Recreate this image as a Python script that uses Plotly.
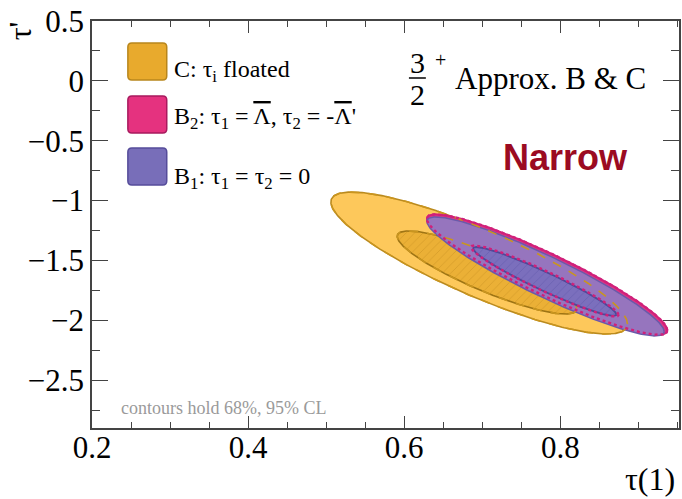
import numpy as np
import plotly.graph_objects as go

# ---------------- data ----------------
# Confidence contours: centre, half-extent along each axis, correlation
contour_names = ["C 95%", "C 68%", "B2 95%", "B1 95%", "B1 68%", "B2 68%"]
centre_x = [0.696, 0.706, 0.783, 0.781, 0.780, 0.780]
centre_y = [-1.522, -1.601, -1.618, -1.634, -1.676, -1.672]
half_x = [0.190, 0.115, 0.154, 0.152, 0.0917, 0.0945]
half_y = [0.593, 0.347, 0.503, 0.497, 0.288, 0.297]
rho = [-0.86, -0.87, -0.925, -0.926, -0.955, -0.953]

OV = '<span style="text-decoration:overline">Λ</span>'
legend_labels = [
    "C: τ<sub>i</sub> floated",
    "B<sub>2</sub>: τ<sub>1</sub> = " + OV + ", τ<sub>2</sub> = -" + OV + "'",
    "B<sub>1</sub>: τ<sub>1</sub> = τ<sub>2</sub> = 0",
]
legend_fill = ["#E8AA2D", "#E5327F", "#786EB9"]
legend_line = ["#B8861C", "#A81A5E", "#554C9A"]

x_tickvals = [0.2, 0.4, 0.6, 0.8]
x_ticktext = ["0.2", "0.4", "0.6", "0.8"]
y_tickvals = [0.5, 0.0, -0.5, -1.0, -1.5, -2.0, -2.5]
y_ticktext = ["0.5", "0", "−0.5", "−1", "−1.5", "−2", "−2.5"]

X_RANGE = [0.2, 0.952]
Y_RANGE = [-2.9, 0.5]

# ---------------- layout geometry ----------------
W, H = 682, 499
ML, MR, MT, MB = 92, 1, 21, 71
PW, PH = W - ML - MR, H - MT - MB
SERIF = "Liberation Serif, Times New Roman, serif"


def px(xp):
    return (xp - ML) / PW


def py(yp):
    return (H - MB - yp) / PH


def ellipse(i, n=361):
    t = np.linspace(0, 2 * np.pi, n)
    r = rho[i]
    x = centre_x[i] + half_x[i] * np.cos(t)
    y = centre_y[i] + half_y[i] * (r * np.cos(t) + np.sqrt(1 - r * r) * np.sin(t))
    return x, y


fig = go.Figure()


def add_fill(i, fill, line, width=1.5, pattern=None, dash="solid"):
    x, y = ellipse(i)
    kw = dict(x=x, y=y, mode="lines", fill="toself", fillcolor=fill,
              line=dict(color=line, width=width, dash=dash),
              hoverinfo="skip", showlegend=False, name=contour_names[i])
    if pattern is not None:
        kw["fillpattern"] = pattern
    fig.add_trace(go.Scatter(**kw))


def add_outline(i, color, width, dash):
    x, y = ellipse(i)
    fig.add_trace(go.Scatter(x=x, y=y, mode="lines",
                             line=dict(color=color, width=width, dash=dash),
                             hoverinfo="skip", showlegend=False,
                             name=contour_names[i] + " outline"))


# C (orange)
add_fill(0, "#FDC85B", "#BA8A1E", 1.6)
add_fill(1, "#EBB036", "#9E7414", 1.6,
         pattern=dict(shape="/", fgcolor="#C48F22", bgcolor="#EBB036",
                      size=6, solidity=0.15))
# B2 95 (pink) and B1 95 (purple)
add_fill(2, "#DE3583", "#D0207A", 2.0)
add_fill(3, "#9675BE", "#6A5AAA", 1.5)
# hidden orange contours shown dashed
add_outline(0, "#C9951F", 1.6, "dash")
add_outline(1, "#C9951F", 1.6, "dash")
# B1 68 (purple, hatched)
add_fill(4, "#7B6FBD", "#4F4898", 1.8,
         pattern=dict(shape="/", fgcolor="#5E55A8", bgcolor="#7B6FBD",
                      size=6, solidity=0.15))
# B2 contours dotted
add_outline(5, "#D0207A", 2.4, "dot")
add_outline(2, "#D0207A", 2.4, "dot")

shapes = []
annotations = []

# legend boxes + labels
box_tops = [43, 96, 148]
text_mid = [71, 118, 178]
for k in range(3):
    x0, x1 = px(128), px(167)
    y0, y1 = py(box_tops[k] + 37), py(box_tops[k])
    rx, ry = 4 / PW, 4 / PH
    path = (f"M{x0+rx},{y0} L{x1-rx},{y0} Q{x1},{y0} {x1},{y0+ry} "
            f"L{x1},{y1-ry} Q{x1},{y1} {x1-rx},{y1} L{x0+rx},{y1} "
            f"Q{x0},{y1} {x0},{y1-ry} L{x0},{y0+ry} Q{x0},{y0} {x0+rx},{y0} Z")
    shapes.append(dict(type="path", xref="paper", yref="paper", path=path,
                       fillcolor=legend_fill[k],
                       line=dict(color=legend_line[k], width=1.5)))
    annotations.append(dict(xref="paper", yref="paper", x=px(172),
                            y=py(text_mid[k]), xanchor="left",
                            yanchor="middle", showarrow=False,
                            text=legend_labels[k],
                            font=dict(family=SERIF, size=24, color="black")))

# 3/2 +  Approx. B & C
annotations.append(dict(xref="paper", yref="paper", x=px(418.5), y=py(63),
                        text="3", showarrow=False, xanchor="center",
                        yanchor="middle",
                        font=dict(family=SERIF, size=30, color="black")))
annotations.append(dict(xref="paper", yref="paper", x=px(418.5), y=py(94),
                        text="2", showarrow=False, xanchor="center",
                        yanchor="middle",
                        font=dict(family=SERIF, size=30, color="black")))
shapes.append(dict(type="line", xref="paper", yref="paper",
                   x0=px(410), x1=px(427), y0=py(78), y1=py(78),
                   line=dict(color="black", width=1.5)))
annotations.append(dict(xref="paper", yref="paper", x=px(442), y=py(60),
                        text="+", showarrow=False, xanchor="center",
                        yanchor="middle",
                        font=dict(family=SERIF, size=20, color="black")))
annotations.append(dict(xref="paper", yref="paper", x=px(454), y=py(78),
                        text="Approx. B &amp; C", showarrow=False,
                        xanchor="left", yanchor="middle",
                        font=dict(family=SERIF, size=31, color="black")))
# Narrow
annotations.append(dict(xref="paper", yref="paper", x=px(567), y=py(158),
                        text="<b>Narrow</b>", showarrow=False,
                        xanchor="center", yanchor="middle",
                        font=dict(family="Liberation Sans, Arial, sans-serif",
                                  size=36, color="#9B0B22")))
# note
annotations.append(dict(xref="paper", yref="paper", x=px(119), y=py(408),
                        text="contours hold 68%, 95% CL", showarrow=False,
                        xanchor="left", yanchor="middle",
                        font=dict(family=SERIF, size=18, color="#9A9A9A")))
# axis titles
annotations.append(dict(xref="paper", yref="paper", x=px(679), y=py(479),
                        text="τ(1)", showarrow=False, xanchor="right",
                        yanchor="middle",
                        font=dict(family=SERIF, size=32, color="black")))
annotations.append(dict(xref="paper", yref="paper", x=px(20), y=py(31),
                        text="τ'", showarrow=False, textangle=-90,
                        xanchor="center", yanchor="middle",
                        font=dict(family=SERIF, size=32, color="black")))

axis_common = dict(showgrid=False, zeroline=False, showline=True,
                   linecolor="#444", linewidth=1.6, mirror="allticks",
                   ticks="inside", tickcolor="#444", tickwidth=1.4,
                   tickfont=dict(family=SERIF, size=31, color="black"))

fig.update_layout(
    width=W, height=H,
    margin=dict(l=ML, r=MR, t=MT, b=MB),
    paper_bgcolor="white", plot_bgcolor="white",
    shapes=shapes, annotations=annotations,
    xaxis=dict(range=X_RANGE, tickvals=x_tickvals, ticktext=x_ticktext,
               ticklen=12, ticklabelstandoff=-9,
               minor=dict(dtick=0.05, tick0=0.2, ticklen=6, ticks="inside",
                          tickcolor="#444", tickwidth=1.2),
               **axis_common),
    yaxis=dict(range=Y_RANGE, tickvals=y_tickvals, ticktext=y_ticktext,
               ticklen=16, ticklabelstandoff=0,
               minor=dict(dtick=0.25, tick0=0.0, ticklen=8, ticks="inside",
                          tickcolor="#444", tickwidth=1.2),
               **axis_common),
    showlegend=False,
)

fig.write_html("out.html")
